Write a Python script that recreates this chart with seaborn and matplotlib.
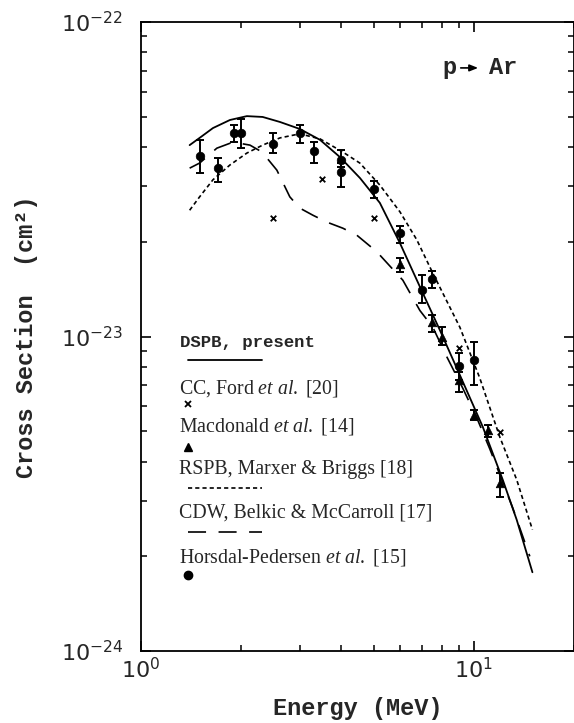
import numpy as np
import pandas as pd
import matplotlib
matplotlib.use("Agg")
import matplotlib.pyplot as plt
import seaborn as sns
from matplotlib.ticker import FixedLocator, NullFormatter, LogFormatterSciNotation

# ---------------- data (cross sections in units of 1e-23 cm^2) ----------------
E_dspb = [1.40, 1.50, 1.645, 1.85, 2.08, 2.32, 2.615, 3.0, 3.45, 3.96, 4.55, 5.22,
          6.0, 6.885, 7.9, 9.08, 10.64, 12.22, 13.46, 15.0]
S_dspb = [4.06, 4.28, 4.60, 4.88, 5.02, 4.99, 4.81, 4.57, 4.22, 3.72, 3.19, 2.66,
          1.98, 1.44, 1.05, 0.754, 0.516, 0.350, 0.261, 0.178]

E_rspb = [1.40, 1.50, 1.645, 1.85, 2.08, 2.32, 2.615, 3.0, 3.45, 4.04, 4.545, 5.22,
          6.0, 6.74, 7.53, 9.08, 10.42, 11.97, 13.46, 15.0]
S_rspb = [2.52, 2.78, 3.15, 3.51, 3.83, 4.06, 4.28, 4.41, 4.25, 3.86, 3.56, 3.03,
          2.49, 2.03, 1.59, 1.07, 0.738, 0.479, 0.350, 0.243]

E_cdw = [1.40, 1.50, 1.69, 1.89, 2.125, 2.31, 2.56, 2.80, 3.0, 3.285, 3.62, 4.04,
         4.45, 5.11, 6.12, 6.885, 7.53, 8.30, 9.27, 10.21, 11.17, 13.09, 14.73]
S_cdw = [3.43, 3.56, 3.97, 4.15, 4.06, 3.86, 3.38, 2.78, 2.56, 2.43, 2.31, 2.21,
         2.10, 1.86, 1.51, 1.21, 1.07, 0.861, 0.684, 0.551, 0.439, 0.285, 0.200]

# Horsdal-Pedersen et al. [15] (circles)
E_hp = [1.5, 1.7, 1.9, 2.0, 2.5, 3.0, 3.3, 4.0, 4.0, 5.0, 6.0, 7.0, 7.5, 9.0, 10.0]
S_hp = [3.75, 3.43, 4.44, 4.44, 4.09, 4.44, 3.89, 3.64, 3.33, 2.94, 2.13, 1.41, 1.52, 0.806, 0.842]
L_hp = [3.32, 3.10, 4.15, 3.97, 3.83, 4.12, 3.56, 3.45, 2.99, 2.76, 1.98, 1.28, 1.43, 0.727, 0.701]
H_hp = [4.23, 3.70, 4.71, 4.92, 4.44, 4.71, 4.15, 3.92, 3.55, 3.12, 2.25, 1.57, 1.62, 0.886, 0.960]

# Macdonald et al. [14] (triangles)
E_mac = [6.0, 7.5, 8.0, 9.0, 10.0, 11.0, 12.0]
S_mac = [1.70, 1.11, 0.996, 0.727, 0.563, 0.504, 0.342]
L_mac = [1.60, 1.03, 0.940, 0.666, 0.543, 0.479, 0.309]
H_mac = [1.78, 1.17, 1.072, 0.771, 0.583, 0.523, 0.368]

# CC, Ford et al. [20] (crosses)
E_cc = [2.5, 3.5, 5.0, 9.0, 12.0]
S_cc = [2.38, 3.17, 2.38, 0.919, 0.497]

UNIT = 1e-23

x_major = [1, 10]
x_minor = [2, 3, 4, 5, 6, 7, 8, 9, 20]
y_major = [1e-24, 1e-23, 1e-22]
y_minor = [m * 1e-24 for m in range(2, 10)] + [m * 1e-23 for m in range(2, 10)]

legend_labels = ["DSPB, present",
                 r"CC, Ford $\it{et\ al.}$ [20]",
                 r"Macdonald $\it{et\ al.}$ [14]",
                 "RSPB, Marxer & Briggs [18]",
                 "CDW, Belkic & McCarroll [17]",
                 r"Horsdal-Pedersen $\it{et\ al.}$ [15]"]

# ---------------- style ----------------
sns.set_style("ticks")
plt.rcParams["font.family"] = ["DejaVu Sans"]
plt.rcParams["mathtext.fontset"] = "custom"
plt.rcParams["mathtext.rm"] = "Liberation Serif"
plt.rcParams["mathtext.it"] = "Liberation Serif:italic"
plt.rcParams["mathtext.bf"] = "Liberation Serif:bold"
plt.rcParams["lines.scale_dashes"] = False

fig = plt.figure(figsize=(5.74, 7.23), dpi=100)
ax = fig.add_axes([141 / 574, 72 / 723, 433 / 574, 629 / 723])
ax.set_xscale("log")
ax.set_yscale("log")

SHORT = (0, (3.0, 2.2))
LONG = (0, (13.0, 9.0))

def to_df(E, S):
    return pd.DataFrame({"E": E, "S": np.asarray(S) * UNIT})

sns.lineplot(data=to_df(E_dspb, S_dspb), x="E", y="S", ax=ax, color="black",
             lw=1.3, estimator=None, sort=False)
sns.lineplot(data=to_df(E_rspb, S_rspb), x="E", y="S", ax=ax, color="black",
             lw=1.2, linestyle=SHORT, estimator=None, sort=False)
sns.lineplot(data=to_df(E_cdw, S_cdw), x="E", y="S", ax=ax, color="black",
             lw=1.2, linestyle=LONG, estimator=None, sort=False)

# error bars
S = np.array(S_hp) * UNIT
ax.errorbar(E_hp, S, yerr=[S - np.array(L_hp) * UNIT, np.array(H_hp) * UNIT - S],
            fmt="none", ecolor="black", elinewidth=1.4, capsize=3, capthick=1.4)
S = np.array(S_mac) * UNIT
ax.errorbar(E_mac, S, yerr=[S - np.array(L_mac) * UNIT, np.array(H_mac) * UNIT - S],
            fmt="none", ecolor="black", elinewidth=1.4, capsize=3, capthick=1.4)

sns.scatterplot(data=to_df(E_hp, S_hp), x="E", y="S", ax=ax, marker="o", s=38,
                color="black", edgecolor="black", linewidth=0.5, zorder=5)
sns.scatterplot(data=to_df(E_mac, S_mac), x="E", y="S", ax=ax, marker="^", s=38,
                color="black", edgecolor="black", linewidth=0.5, zorder=5)
sns.scatterplot(data=to_df(E_cc, S_cc), x="E", y="S", ax=ax, marker="x", s=16,
                color="black", linewidth=1.3, zorder=5)

ax.set_xlim(1, 20)
ax.set_ylim(1e-24, 1e-22)

# ticks (only ticks inside the view, so no hidden labels exist)
ax.xaxis.set_major_locator(FixedLocator(x_major))
ax.xaxis.set_minor_locator(FixedLocator(x_minor))
ax.yaxis.set_major_locator(FixedLocator(y_major))
ax.yaxis.set_minor_locator(FixedLocator(y_minor))
for axis in (ax.xaxis, ax.yaxis):
    axis.set_major_formatter(LogFormatterSciNotation())
    axis.set_minor_formatter(NullFormatter())
ax.tick_params(which="both", direction="in", top=True, right=True, color="black")
ax.tick_params(which="major", length=7, width=1.2)
ax.tick_params(which="minor", length=4.5, width=1.1)
ax.tick_params(axis="y", which="major", pad=13, labelsize=16)
ax.tick_params(axis="x", which="major", pad=4, labelsize=16)
for sp in ax.spines.values():
    sp.set_linewidth(1.3)
    sp.set_color("black")

mono = dict(family="Liberation Mono", weight="bold")
ax.set_xlabel("Energy (MeV)", fontsize=17, labelpad=11, **mono)
ax.set_ylabel("Cross Section  (cm²)", fontsize=17, labelpad=16, **mono)

# p -> Ar
ax.text(0.695, 0.927, "p", transform=ax.transAxes, fontsize=17, va="center", ha="left", **mono)
ax.annotate("", xy=(0.785, 0.927), xytext=(0.732, 0.927), xycoords="axes fraction",
            arrowprops=dict(arrowstyle="-|>,head_length=0.5,head_width=0.2", color="black", lw=1.2))
ax.text(0.804, 0.927, "Ar", transform=ax.transAxes, fontsize=17, va="center", ha="left", **mono)

# custom legend
tr = ax.transAxes
serif = dict(family="Liberation Serif", fontsize=14.3)
ax.text(0.090, 0.4897, legend_labels[0], transform=tr, va="center", ha="left",
        fontsize=12.5, **mono)
ax.plot([0.1085, 0.2794], [0.4626, 0.4626], transform=tr, color="black", lw=1.3)
ax.text(0.088, 0.4181, legend_labels[1], transform=tr, va="center", ha="left", **serif)
ax.plot([0.1085], [0.3927], transform=tr, marker="x", ms=4, mew=1.3, color="black", ls="none")
ax.text(0.088, 0.3577, legend_labels[2], transform=tr, va="center", ha="left", **serif)
ax.plot([0.1085], [0.3243], transform=tr, marker="^", ms=6, color="black", ls="none")
ax.text(0.088, 0.2878, legend_labels[3], transform=tr, va="center", ha="left", **serif)
ax.plot([0.1085, 0.2794], [0.2591, 0.2591], transform=tr, color="black", lw=1.2, ls=SHORT)
ax.text(0.088, 0.2194, legend_labels[4], transform=tr, va="center", ha="left", **serif)
ax.plot([0.1085, 0.2794], [0.1892, 0.1892], transform=tr, color="black", lw=1.2, ls=LONG)
ax.text(0.088, 0.1494, legend_labels[5], transform=tr, va="center", ha="left", **serif)
ax.plot([0.1085], [0.1208], transform=tr, marker="o", ms=6, color="black", ls="none")

fig.savefig("out.png", dpi=100)
